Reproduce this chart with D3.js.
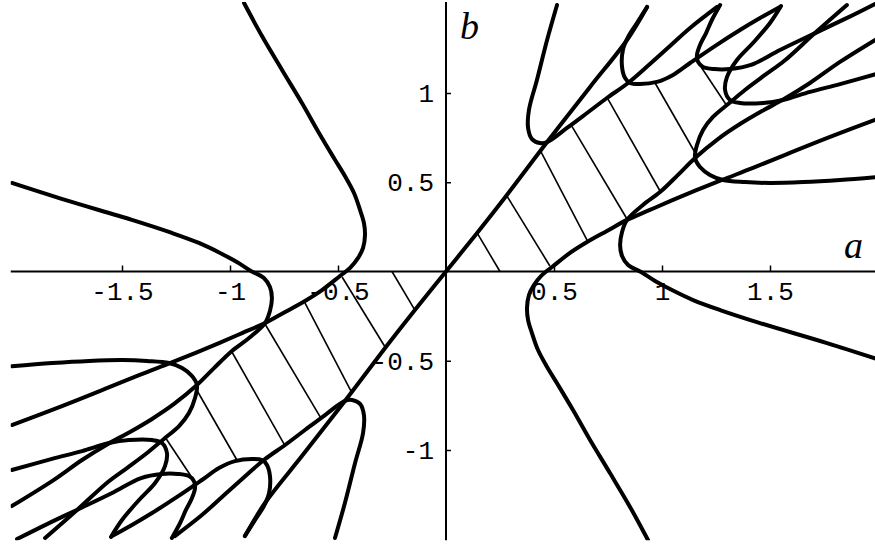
<!DOCTYPE html>
<html>
<head>
<meta charset="utf-8">
<script src="https://cdn.jsdelivr.net/npm/d3@7"></script>
<style>
  body { margin: 0; background: #fff; }
  svg { display: block; }
</style>
</head>
<body>
<div id="chart"></div>
<script>
// boundary curves, in (a, b) units
// the picture is point symmetric, so every curve has a twin in the opposite quadrant

const curveC1 = [[-0.931,-1.482],[-0.838,-1.297],[-0.667,-1.034],[-0.468,-0.725],[-0.282,-0.429],[-0.144,-0.216],[0,0],[0.144,0.216],[0.282,0.429],[0.468,0.725],[0.667,1.034],[0.838,1.297],[0.931,1.482]];

const curveU1 = [[0.514,1.493],[0.468,1.297],[0.421,1.073],[0.384,0.905],[0.380,0.804],[0.398,0.742],[0.435,0.720],[0.468,0.725],[0.560,0.804],[0.653,0.888],[0.745,0.972],[0.843,1.056],[0.944,1.162],[1.037,1.263],[1.130,1.364],[1.255,1.482]];
const curveU1m = [[-0.514,-1.493],[-0.468,-1.297],[-0.421,-1.073],[-0.384,-0.905],[-0.380,-0.804],[-0.398,-0.742],[-0.435,-0.720],[-0.468,-0.725],[-0.560,-0.804],[-0.653,-0.888],[-0.745,-0.972],[-0.843,-1.056],[-0.944,-1.162],[-1.037,-1.263],[-1.130,-1.364],[-1.255,-1.482]];

const curveU2 = [[0.931,1.482],[0.884,1.392],[0.843,1.314],[0.819,1.241],[0.815,1.146],[0.829,1.084],[0.852,1.056],[0.898,1.050],[0.977,1.062],[1.051,1.101],[1.130,1.168],[1.245,1.263],[1.361,1.353],[1.454,1.420],[1.546,1.482]];
const curveU2m = [[-0.931,-1.482],[-0.884,-1.392],[-0.843,-1.314],[-0.819,-1.241],[-0.815,-1.146],[-0.829,-1.084],[-0.852,-1.056],[-0.898,-1.050],[-0.977,-1.062],[-1.051,-1.101],[-1.130,-1.168],[-1.245,-1.263],[-1.361,-1.353],[-1.454,-1.420],[-1.546,-1.482]];

const curveU3 = [[1.269,1.493],[1.231,1.409],[1.204,1.336],[1.176,1.269],[1.162,1.213],[1.167,1.174],[1.190,1.146],[1.241,1.134],[1.315,1.134],[1.412,1.157],[1.546,1.241],[1.690,1.325],[1.847,1.415],[1.986,1.499]];
const curveU3m = [[-1.269,-1.493],[-1.231,-1.409],[-1.204,-1.336],[-1.176,-1.269],[-1.162,-1.213],[-1.167,-1.174],[-1.190,-1.146],[-1.241,-1.134],[-1.315,-1.134],[-1.412,-1.157],[-1.546,-1.241],[-1.690,-1.325],[-1.847,-1.415],[-1.986,-1.499]];

const curveU4 = [[1.551,1.487],[1.500,1.392],[1.421,1.280],[1.347,1.185],[1.301,1.090],[1.292,1.017],[1.315,0.961],[1.361,0.944],[1.468,0.944],[1.560,0.961],[1.685,1.006],[1.824,1.050],[2.010,1.112]];
const curveU4m = [[-1.551,-1.487],[-1.500,-1.392],[-1.421,-1.280],[-1.347,-1.185],[-1.301,-1.090],[-1.292,-1.017],[-1.315,-0.961],[-1.361,-0.944],[-1.468,-0.944],[-1.560,-0.961],[-1.685,-1.006],[-1.824,-1.050],[-2.010,-1.112]];

const curveHA = [[0.935,-1.504],[0.852,-1.319],[0.759,-1.129],[0.667,-0.944],[0.588,-0.776],[0.519,-0.636],[0.468,-0.535],[0.426,-0.440],[0.398,-0.345],[0.380,-0.272],[0.375,-0.204],[0.384,-0.132],[0.407,-0.076],[0.444,-0.020],[0.491,0.025],[0.574,0.104],[0.653,0.165],[0.745,0.227],[0.838,0.289],[0.944,0.345],[1.051,0.401],[1.162,0.457],[1.278,0.513],[1.421,0.580],[1.579,0.658],[1.778,0.754],[2.010,0.860]];
const curveHAm = [[-0.935,1.504],[-0.852,1.319],[-0.759,1.129],[-0.667,0.944],[-0.588,0.776],[-0.519,0.636],[-0.468,0.535],[-0.426,0.440],[-0.398,0.345],[-0.380,0.272],[-0.375,0.204],[-0.384,0.132],[-0.407,0.076],[-0.444,0.020],[-0.491,-0.025],[-0.574,-0.104],[-0.653,-0.165],[-0.745,-0.227],[-0.838,-0.289],[-0.944,-0.345],[-1.051,-0.401],[-1.162,-0.457],[-1.278,-0.513],[-1.421,-0.580],[-1.579,-0.658],[-1.778,-0.754],[-2.010,-0.860]];

const curveHB = [[2.010,-0.496],[1.764,-0.401],[1.454,-0.289],[1.269,-0.216],[1.144,-0.160],[1.046,-0.104],[0.968,-0.053],[0.903,-0.003],[0.843,0.036],[0.815,0.087],[0.806,0.148],[0.815,0.221],[0.838,0.289],[0.912,0.373],[0.991,0.445],[1.074,0.541],[1.153,0.636],[1.259,0.742],[1.361,0.826],[1.463,0.899],[1.565,0.966],[1.685,1.056],[1.824,1.174],[2.010,1.314]];
const curveHBm = [[-2.010,0.496],[-1.764,0.401],[-1.454,0.289],[-1.269,0.216],[-1.144,0.160],[-1.046,0.104],[-0.968,0.053],[-0.903,0.003],[-0.843,-0.036],[-0.815,-0.087],[-0.806,-0.148],[-0.815,-0.221],[-0.838,-0.289],[-0.912,-0.373],[-0.991,-0.445],[-1.074,-0.541],[-1.153,-0.636],[-1.259,-0.742],[-1.361,-0.826],[-1.463,-0.899],[-1.565,-0.966],[-1.685,-1.056],[-1.824,-1.174],[-2.010,-1.314]];

const curveHC = [[2.010,0.531],[1.824,0.513],[1.653,0.501],[1.500,0.496],[1.384,0.501],[1.282,0.513],[1.222,0.541],[1.176,0.585],[1.153,0.636],[1.162,0.709],[1.190,0.793],[1.236,0.866],[1.306,0.938],[1.384,1.017],[1.477,1.101],[1.565,1.179],[1.708,1.336],[1.856,1.493]];
const curveHCm = [[-2.010,-0.531],[-1.824,-0.513],[-1.653,-0.501],[-1.500,-0.496],[-1.384,-0.501],[-1.282,-0.513],[-1.222,-0.541],[-1.176,-0.585],[-1.153,-0.636],[-1.162,-0.709],[-1.190,-0.793],[-1.236,-0.866],[-1.306,-0.938],[-1.384,-1.017],[-1.477,-1.101],[-1.565,-1.179],[-1.708,-1.336],[-1.856,-1.493]];

// hatch strokes of the shaded band: [a1, b1, a2, b2]
const hatch = [[0.144,0.216,0.250,0.000],[0.282,0.423,0.481,0.031],[0.435,0.681,0.653,0.176],[0.579,0.821,0.838,0.294],[0.750,0.966,0.991,0.451],[0.968,1.056,1.162,0.647],[1.181,1.146,1.301,0.927]];
const hatchM = [[-0.144,-0.216,-0.250,0.000],[-0.282,-0.423,-0.481,-0.031],[-0.435,-0.681,-0.653,-0.176],[-0.579,-0.821,-0.838,-0.294],[-0.750,-0.966,-0.991,-0.451],[-0.968,-1.056,-1.162,-0.647],[-1.181,-1.146,-1.301,-0.927]];

const xTicks = [-1.5, -1, -0.5, 0.5, 1, 1.5];
const yTicks = [-1, -0.5, 0.5, 1];
const xExtent = [-2.015, 2.03];
const yExtent = [-1.505, 1.51];

const curves = [curveC1, curveU1, curveU1m, curveU2, curveU2m, curveU3, curveU3m,
  curveU4, curveU4m, curveHA, curveHAm, curveHB, curveHBm, curveHC, curveHCm];

const width = 875, height = 547;

const x = d3.scaleLinear().domain([-1.5, 1.5]).range([122, 770]);
const y = d3.scaleLinear().domain([-1, 1]).range([450, 93]);

const svg = d3.select("#chart")
  .append("svg")
  .attr("width", width)
  .attr("height", height)
  .style("background", "#fff");

svg.append("clipPath")
  .attr("id", "plot")
  .append("rect")
  .attr("x", x(xExtent[0]))
  .attr("y", y(yExtent[1]))
  .attr("width", x(xExtent[1]) - x(xExtent[0]))
  .attr("height", y(yExtent[0]) - y(yExtent[1]));

const plot = svg.append("g").attr("clip-path", "url(#plot)");

// hatching
plot.selectAll("line.hatch")
  .data(hatch.concat(hatchM))
  .enter()
  .append("line")
  .attr("class", "hatch")
  .attr("x1", d => x(d[0]))
  .attr("y1", d => y(d[1]))
  .attr("x2", d => x(d[2]))
  .attr("y2", d => y(d[3]))
  .attr("stroke", "#000")
  .attr("stroke-width", 1.6);

const line = d3.line()
  .x(d => x(d[0]))
  .y(d => y(d[1]))
  .curve(d3.curveCatmullRom.alpha(0.5));

plot.selectAll("path.curve")
  .data(curves)
  .enter()
  .append("path")
  .attr("class", "curve")
  .attr("d", line)
  .attr("fill", "none")
  .attr("stroke", "#000")
  .attr("stroke-width", 4)
  .attr("stroke-linecap", "round")
  .attr("stroke-linejoin", "round");

// axes lines
svg.append("line")
  .attr("x1", x(xExtent[0])).attr("x2", x(xExtent[1]))
  .attr("y1", y(0)).attr("y2", y(0))
  .attr("stroke", "#000").attr("stroke-width", 2);

svg.append("line")
  .attr("x1", x(0)).attr("x2", x(0))
  .attr("y1", y(yExtent[0])).attr("y2", y(yExtent[1]))
  .attr("stroke", "#000").attr("stroke-width", 2);

const xAxis = svg.append("g")
  .attr("transform", `translate(0,${y(0)})`)
  .call(d3.axisBottom(x)
    .tickValues(xTicks)
    .tickSizeInner(-6)
    .tickSizeOuter(0)
    .tickPadding(10)
    .tickFormat(d => String(d)));

const yAxis = svg.append("g")
  .attr("transform", `translate(${x(0)},0)`)
  .call(d3.axisLeft(y)
    .tickValues(yTicks)
    .tickSizeInner(-5)
    .tickSizeOuter(0)
    .tickPadding(12)
    .tickFormat(d => String(d)));

[xAxis, yAxis].forEach(g => {
  g.select(".domain").remove();
  g.selectAll(".tick line").attr("stroke", "#000").attr("stroke-width", 1.5);
  g.selectAll(".tick text")
    .attr("fill", "#000")
    .style("font-family", "'Liberation Mono', 'DejaVu Sans Mono', monospace")
    .style("font-size", "26px");
});

// axis names
svg.append("text")
  .attr("x", 844)
  .attr("y", 258)
  .style("font-family", "'Liberation Serif', 'DejaVu Serif', serif")
  .style("font-style", "italic")
  .style("font-size", "38px")
  .text("a");

svg.append("text")
  .attr("x", 460)
  .attr("y", 39)
  .style("font-family", "'Liberation Serif', 'DejaVu Serif', serif")
  .style("font-style", "italic")
  .style("font-size", "38px")
  .text("b");
</script>
</body>
</html>
